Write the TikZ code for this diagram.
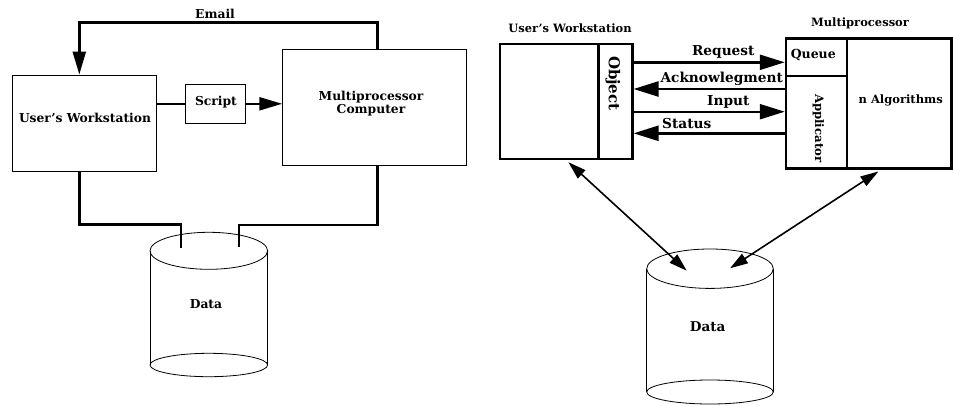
\documentclass[tikz,border=0pt]{standalone}
\usepackage{fontspec}
\setmainfont{DejaVu Serif}
\usetikzlibrary{arrows.meta,calc}
\begin{document}
\begin{tikzpicture}[x=1pt,y=-1pt,
  txt/.style={font=\bfseries\fontsize{#1}{#1}\selectfont, inner sep=0pt},
  txt/.default=12,
  thinbox/.style={draw, line width=0.8pt, inner sep=0pt},
  thickbox/.style={draw, line width=2.4pt, inner sep=0pt},
  conn/.style={line width=2.4pt},
  headA/.style={-{Triangle[length=23pt,width=13pt]}},
  headB/.style={-{Triangle[length=25pt,width=15pt]}},
  diag/.style={line width=1.6pt, {Triangle[length=18pt,width=11pt]}-{Triangle[length=18pt,width=11pt]}},
  drum/.style={line width=0.8pt}
]
\useasboundingbox[fill=white] (0,0) rectangle (953,405);

% ---------- left: email / script layout ----------
\node[thinbox, minimum width=143.3pt, minimum height=96.7pt] (ws) at (84.3,123.3) {};
\node[txt=12.3] at (85,118) {User's Workstation};
\node[thinbox, minimum width=60pt, minimum height=39pt] (script) at (215.7,103.8) {};
\node[txt=12.3] at (216,102) {Script};
\node[thinbox, minimum width=183.3pt, minimum height=116.3pt] (mp) at (374.3,107.2) {};
\node[txt=12.3, align=center] at (371,103.5) {Multiprocessor\\[1pt]Computer};

\draw[conn, headA] ($(mp.north west)!0.518!(mp.north east)$) -- ++(0,-26.3) -| ($(ws.north)+(-5,0)$);
\node[txt=12.3] (email) at (215,14) {Email};

\draw[conn] (script.west) -- (script.west -| ws.east);
\draw[conn, headA] (script.east) -- (script.east -| mp.west);

% storage drum
\draw[drum] (150,250.8) -- (150,365) (267.7,250.8) -- (267.7,365);
\draw[drum] (208.8,250.8) ellipse [x radius=58.8, y radius=18.5];
\draw[drum] (208.8,365) ellipse [x radius=58.8, y radius=11.7];
\node[txt=12.3] (data1) at (206,304.3) {Data};
\coordinate (d1a) at (181,247.7);
\coordinate (d1b) at (238.7,246.7);

\draw[conn] ($(ws.south)+(-5,0)$) -- ++(0,52.6) -| (d1a);
\draw[conn] ($(mp.south west)!0.518!(mp.south east)$) -- ++(0,59) -| (d1b);

% ---------- right: object / applicator layout ----------
\node[txt=11.5] at (570,28.3) {User's Workstation};
\node[thickbox, minimum width=132.3pt, minimum height=115pt] (rws) at (566.2,101.5) {};
\draw[line width=2.4pt] (598.3,0 |- rws.north) -- (598.3,0 |- rws.south);
\node[txt=15, rotate=-90] at (613,83.3) {Object};

\node[txt=11.5] at (860,23.3) {Multiprocessor};
\node[thickbox, minimum width=165.7pt, minimum height=130pt] (rmp) at (868.8,103.3) {};
\draw[line width=2.4pt] (846.7,0 |- rmp.north) -- (846.7,0 |- rmp.south);
\draw[line width=2.4pt] (rmp.west |- 0,76) -- (846.7,76);
\node[txt=12.5] at (813.3,55) {Queue};
\node[txt=11.7, rotate=-90] at (818.3,128.3) {Applicator};
\node[txt=11.5] at (900.7,100) {n Algorithms};

\draw[conn, headB] (rws.east |- 0,62.3) -- (rmp.west |- 0,62.3);
\draw[conn, headB] (rmp.west |- 0,89) -- (rws.east |- 0,89);
\draw[conn, headB] (rws.east |- 0,111.7) -- (rmp.west |- 0,111.7);
\draw[conn, headB] (rmp.west |- 0,133.3) -- (rws.east |- 0,133.3);
\node[txt=13.7] at (723.3,51.7) {Request};
\node[txt=13.7] at (721.7,79) {Acknowlegment};
\node[txt=13.7] at (728.3,101.7) {Input};
\node[txt=13.7] at (686.7,124) {Status};

% storage drum
\draw[drum] (646.7,268.7) -- (646.7,392) (773.3,268.7) -- (773.3,392);
\draw[drum] (710,268.7) ellipse [x radius=63.3, y radius=19.7];
\draw[drum] (710,392) ellipse [x radius=63.3, y radius=12];
\node[txt=13.5] (data2) at (707.7,326.7) {Data};
\coordinate (d2a) at (686.7,270.7);
\coordinate (d2b) at (730,268.3);

\draw[diag] ($(rws.south west)!0.516!(rws.south east)+(0,2)$) -- (d2a);
\draw[diag] ($(rmp.south west)!0.557!(rmp.south east)+(0,2)$) -- (d2b);
\end{tikzpicture}
\end{document}
